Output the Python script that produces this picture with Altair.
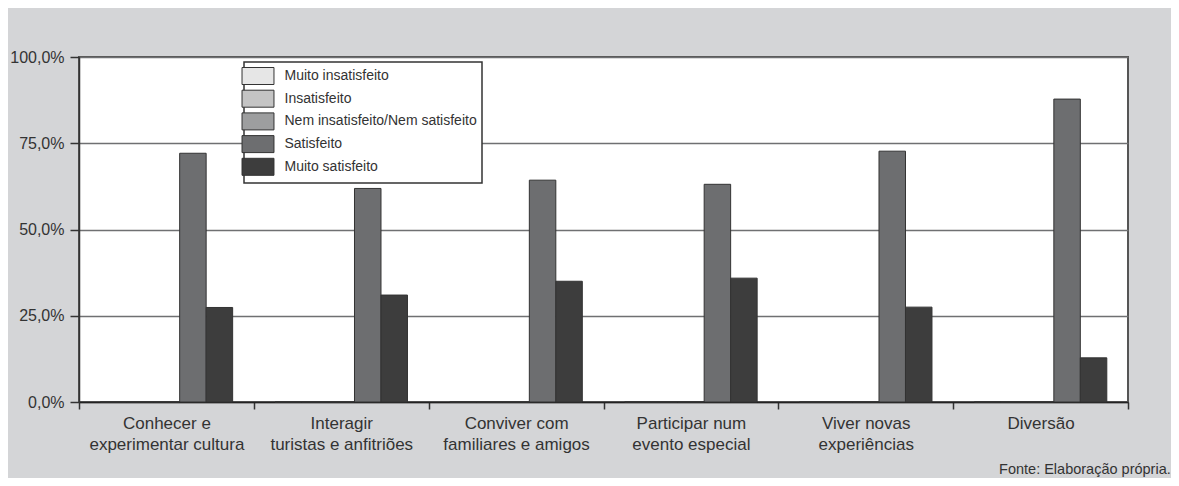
import altair as alt
import pandas as pd

categories = [
    "Conhecer e|experimentar cultura",
    "Interagir|turistas e anfitriões",
    "Conviver com|familiares e amigos",
    "Participar num|evento especial",
    "Viver novas|experiências",
    "Diversão",
]
series = [
    "Muito insatisfeito",
    "Insatisfeito",
    "Nem insatisfeito/Nem satisfeito",
    "Satisfeito",
    "Muito satisfeito",
]
muito_insatisfeito = [0.0, 0.0, 0.0, 0.0, 0.0, 0.0]
insatisfeito = [0.0, 0.0, 0.0, 0.0, 0.0, 0.0]
nem_insatisfeito_nem_satisfeito = [0.0, 0.0, 0.0, 0.0, 0.0, 0.0]
satisfeito = [72.1, 61.9, 64.3, 63.1, 72.7, 87.8]
muito_satisfeito = [27.4, 31.0, 35.0, 35.9, 27.5, 12.8]
y_ticks = [0, 25, 50, 75, 100]
colors = ["#e6e6e6", "#c4c4c4", "#9d9e9f", "#6d6e70", "#3d3d3d"]
footnote = "Fonte: Elaboração própria."

values_by_series = [
    muito_insatisfeito,
    insatisfeito,
    nem_insatisfeito_nem_satisfeito,
    satisfeito,
    muito_satisfeito,
]
rows = []
for s, vals in zip(series, values_by_series):
    for c, v in zip(categories, vals):
        rows.append({"categoria": c, "serie": s, "valor": v})
df = pd.DataFrame(rows)

FONT = "Liberation Sans, Arial, sans-serif"

chart = (
    alt.Chart(df)
    .mark_bar(stroke="#333333", strokeWidth=1)
    .encode(
        x=alt.X(
            "categoria:N",
            sort=categories,
            scale=alt.Scale(paddingInner=0, paddingOuter=0),
            axis=alt.Axis(
                title=None,
                labelAngle=0,
                labelExpr="split(datum.label, '|')",
                labelFont=FONT,
                labelFontSize=17,
                labelColor="#333333",
                labelLineHeight=21,
                labelPadding=6,
                labelBaseline="top",
                tickBand="extent",
                tickSize=7,
                tickColor="#333333",
                tickWidth=1.5,
                domainColor="#222222",
                domainWidth=1.5,
                labelLimit=0,
            ),
        ),
        xOffset=alt.XOffset(
            "serie:N",
            sort=series,
            scale=alt.Scale(paddingInner=0, paddingOuter=0.8),
        ),
        y=alt.Y(
            "valor:Q",
            scale=alt.Scale(domain=[0, 100], nice=False),
            axis=alt.Axis(
                title=None,
                values=y_ticks,
                labelExpr="replace(format(datum.value, '.1f'), '.', ',') + '%'",
                labelFont=FONT,
                labelFontSize=16,
                labelColor="#333333",
                labelPadding=6,
                tickSize=9,
                tickColor="#333333",
                tickWidth=1.5,
                domainColor="#333333",
                domainWidth=1.5,
                grid=True,
                gridColor="#6f7072",
                gridWidth=1.5,
            ),
        ),
        color=alt.Color(
            "serie:N",
            sort=series,
            scale=alt.Scale(domain=series, range=colors),
            legend=alt.Legend(
                title=None,
                orient="none",
                legendX=165,
                legendY=5,
                fillColor="white",
                strokeColor="#333333",
                padding=5,
                symbolType="M-1.88,-1H1.88V1H-1.88Z",
                symbolSize=289,
                symbolStrokeColor="#333333",
                symbolStrokeWidth=1,
                symbolOpacity=1,
                labelFont=FONT,
                labelFontSize=14,
                labelColor="#333333",
                labelOffset=17.5,
                rowPadding=0.7,
                labelLimit=0,
            ),
        ),
    )
    .properties(
        width=1049,
        height=345,
        autosize=alt.AutoSizeParams(type="none"),
        padding={"left": 71, "top": 49, "right": 43, "bottom": 76},
        title=alt.TitleParams(
            text=footnote,
            orient="bottom",
            anchor="end",
            font=FONT,
            fontSize=14.5,
            fontWeight="normal",
            color="#333333",
            dx=42,
            offset=22,
            baseline="alphabetic",
        ),
    )
    .configure(background="#d4d5d7")
    .configure_view(fill="white", stroke="#555555", strokeWidth=2)
    .configure_legend(strokeWidth=1.5)
)

chart.save("out.html", embed_options={"renderer": "svg", "actions": False})
